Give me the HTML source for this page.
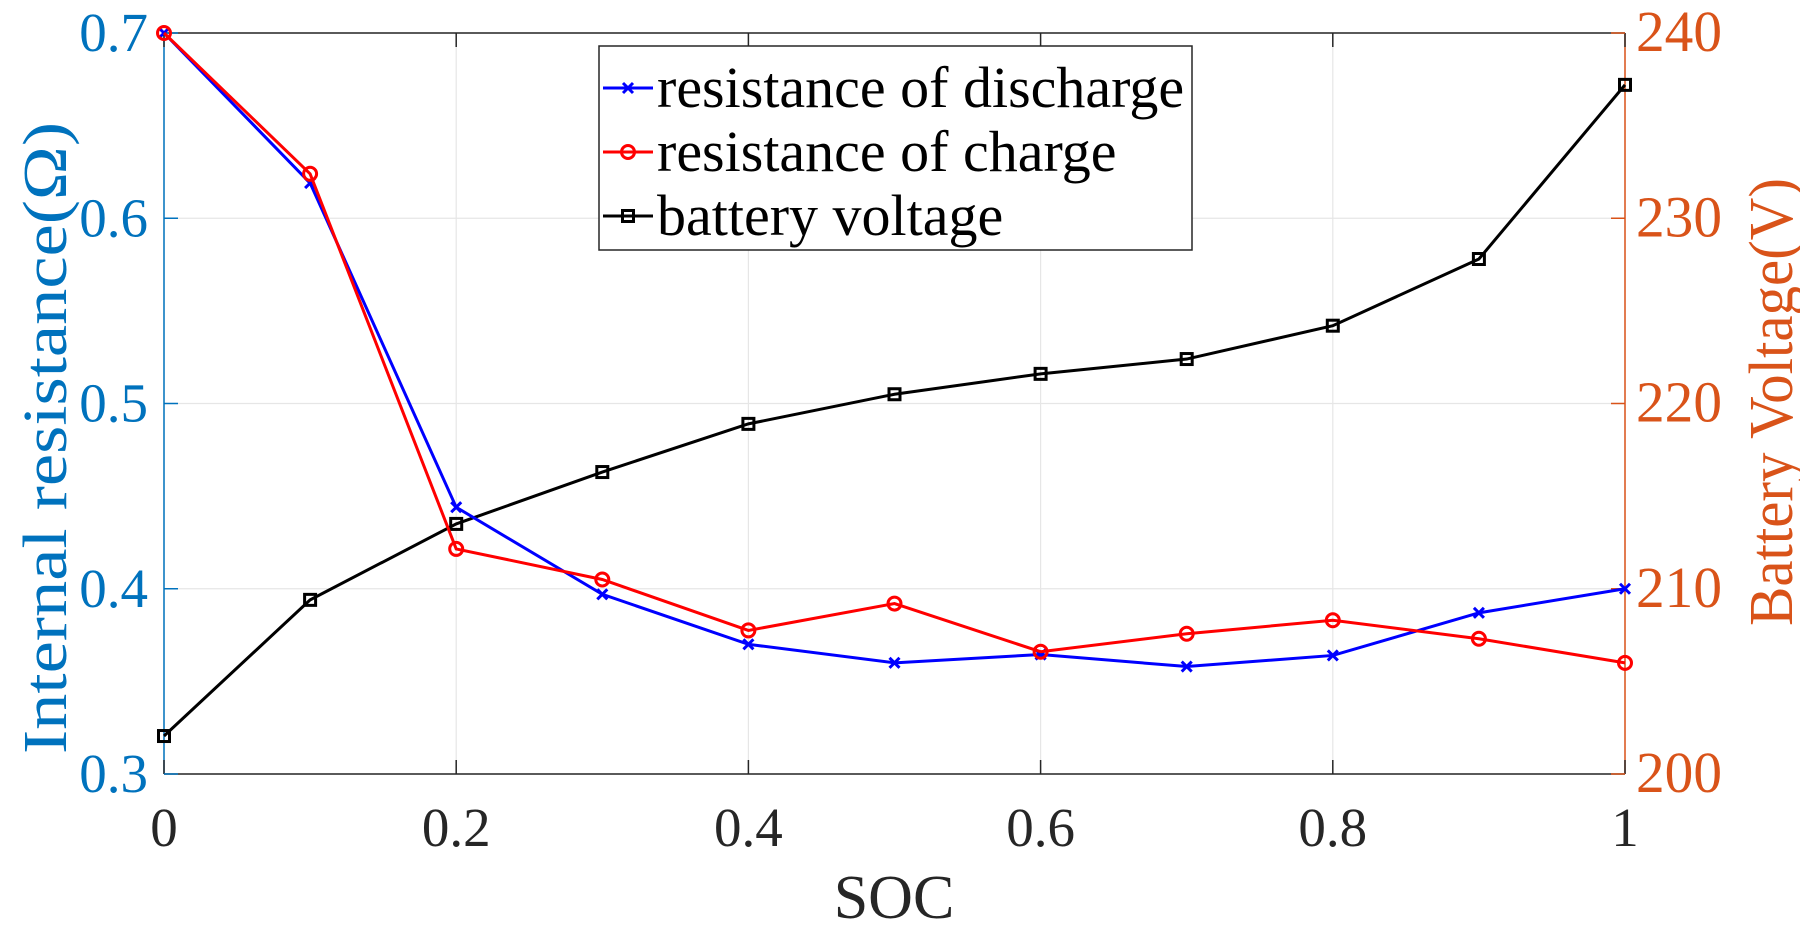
<!DOCTYPE html>
<html><head><meta charset="utf-8"><style>
html,body{margin:0;padding:0;background:#fff;}
svg{display:block;font-family:"Liberation Serif",serif;}
</style></head><body>
<svg id="chart" width="1800" height="927" viewBox="0 0 1800 927"></svg>
<script>
const socValues=[0,0.1,0.2,0.3,0.4,0.5,0.6,0.7,0.8,0.9,1];
const dischargeValues=[0.7,0.619,0.444,0.397,0.370,0.360,0.3645,0.358,0.364,0.387,0.400];
const chargeValues=[0.7,0.624,0.4215,0.405,0.3775,0.392,0.366,0.3757,0.383,0.373,0.360];
const voltageValues=[202.05,209.4,213.5,216.3,218.9,220.5,221.6,222.4,224.2,227.8,237.2];
const xTicks=[0,0.2,0.4,0.6,0.8,1];
const xTickLabels=["0","0.2","0.4","0.6","0.8","1"];
const leftTicks=[0.3,0.4,0.5,0.6,0.7];
const leftTickLabels=["0.3","0.4","0.5","0.6","0.7"];
const rightTicks=[200,210,220,230,240];
const rightTickLabels=["200","210","220","230","240"];

const X0=164,X1=1625,Y0=774,Y1=33;
const xs=v=>X0+(v-0)/(1-0)*(X1-X0);
const yl=v=>Y0-(v-0.3)/(0.7-0.3)*(Y0-Y1);
const yr=v=>Y0-(v-200)/(240-200)*(Y0-Y1);
const svg=document.getElementById('chart');
const NS='http://www.w3.org/2000/svg';
function mk(tag,attrs,parent){const e=document.createElementNS(NS,tag);for(const k in attrs)e.setAttribute(k,attrs[k]);(parent||svg).appendChild(e);return e;}

const grid=mk('g',{});


xTicks.forEach(t=>mk('line',{x1:xs(t),x2:xs(t),y1:Y0,y2:Y1,stroke:'#e6e6e6','stroke-width':1.2},grid));
leftTicks.forEach(t=>mk('line',{x1:X0,x2:X1,y1:yl(t),y2:yl(t),stroke:'#e6e6e6','stroke-width':1.2},grid));

mk('line',{x1:X0,x2:X1,y1:Y1,y2:Y1,stroke:'#262626','stroke-width':1.5});
mk('line',{x1:X0,x2:X1,y1:Y0,y2:Y0,stroke:'#262626','stroke-width':1.5});
const la=mk('line',{x1:X0,x2:X0,y1:Y0,y2:Y1,stroke:'#0072BD','stroke-width':1.5});


const ra=mk('line',{x1:X1,x2:X1,y1:Y0,y2:Y1,stroke:'#D95319','stroke-width':1.5});



xTicks.forEach((t,i)=>{
  mk('line',{x1:xs(t),x2:xs(t),y1:Y0,y2:Y0-14,stroke:'#262626','stroke-width':1.5});
  mk('line',{x1:xs(t),x2:xs(t),y1:Y1,y2:Y1+14,stroke:'#262626','stroke-width':1.5});
  const tx=mk('text',{x:xs(t),y:846,'text-anchor':'middle','font-size':55,fill:'#262626'});
  tx.textContent=xTickLabels[i];
  
  
});
leftTicks.forEach((t,i)=>{
  mk('line',{x1:X0,x2:X0+14,y1:yl(t),y2:yl(t),stroke:'#0072BD','stroke-width':1.5});
  const tx=mk('text',{x:148,y:yl(t)+18,'text-anchor':'end','font-size':55,fill:'#0072BD'});
  tx.textContent=leftTickLabels[i];
  
  
});
rightTicks.forEach((t,i)=>{
  mk('line',{x1:X1,x2:X1-14,y1:yr(t),y2:yr(t),stroke:'#D95319','stroke-width':1.5});
  const tx=mk('text',{x:1636,y:yr(t)+18,'text-anchor':'start','font-size':58,fill:'#D95319',textLength:86,lengthAdjust:'spacingAndGlyphs'});
  tx.textContent=rightTickLabels[i];
  
  
});

const xt=mk('text',{x:894,y:918,'text-anchor':'middle','font-size':62,fill:'#262626'});
xt.textContent='SOC';


const lt=mk('text',{x:0,y:0,'text-anchor':'middle','font-size':62,fill:'#0072BD',transform:'translate(66,438) rotate(-90)',textLength:632,lengthAdjust:'spacingAndGlyphs'});
lt.textContent='Internal resistance(Ω)';


const rt=mk('text',{x:0,y:0,'text-anchor':'middle','font-size':62,fill:'#D95319',transform:'translate(1792,402) rotate(-90)',textLength:448,lengthAdjust:'spacingAndGlyphs'});
rt.textContent='Battery Voltage(V)';



function marker(type,x,y,color,parent){
  if(type==='x'){mk('path',{d:`M${x-5},${y-5}L${x+5},${y+5}M${x-5},${y+5}L${x+5},${y-5}`,stroke:color,'stroke-width':3,fill:'none'},parent);}
  else if(type==='o'){mk('circle',{cx:x,cy:y,r:6.5,stroke:color,'stroke-width':3,fill:'none'},parent);}
  else {mk('rect',{x:x-5.5,y:y-5.5,width:11,height:11,stroke:color,'stroke-width':3,fill:'none'},parent);}
}
function series(vals,yf,color,type,name){
  const g=mk('g',{});
  
  
  const pts=vals.map((v,i)=>xs(socValues[i])+','+yf(v)).join(' ');
  mk('polyline',{points:pts,fill:'none',stroke:color,'stroke-width':3},g);
  vals.forEach((v,i)=>marker(type,xs(socValues[i]),yf(v),color,g));
}
series(voltageValues,yr,'#000','s','battery-voltage-series');
series(dischargeValues,yl,'#0000ff','x','discharge-resistance-series');
series(chargeValues,yl,'#ff0000','o','charge-resistance-series');

const lg=mk('g',{});


mk('rect',{x:599,y:46,width:593,height:204,fill:'#fff',stroke:'#262626','stroke-width':1.5},lg);
const entries=[['resistance of discharge','#0000ff','x'],['resistance of charge','#ff0000','o'],['battery voltage','#000','s']];
entries.forEach((e,i)=>{
  const cy=88+i*64;
  const eg=mk('g',{},lg);
  
  
  mk('line',{x1:603,x2:653,y1:cy,y2:cy,stroke:e[1],'stroke-width':3},eg);
  marker(e[2],628,cy,e[1],eg);
  const t=mk('text',{x:657,y:cy+19,'font-size':58,fill:'#000'},eg);
  t.textContent=e[0];
});
</script>
</body></html>
